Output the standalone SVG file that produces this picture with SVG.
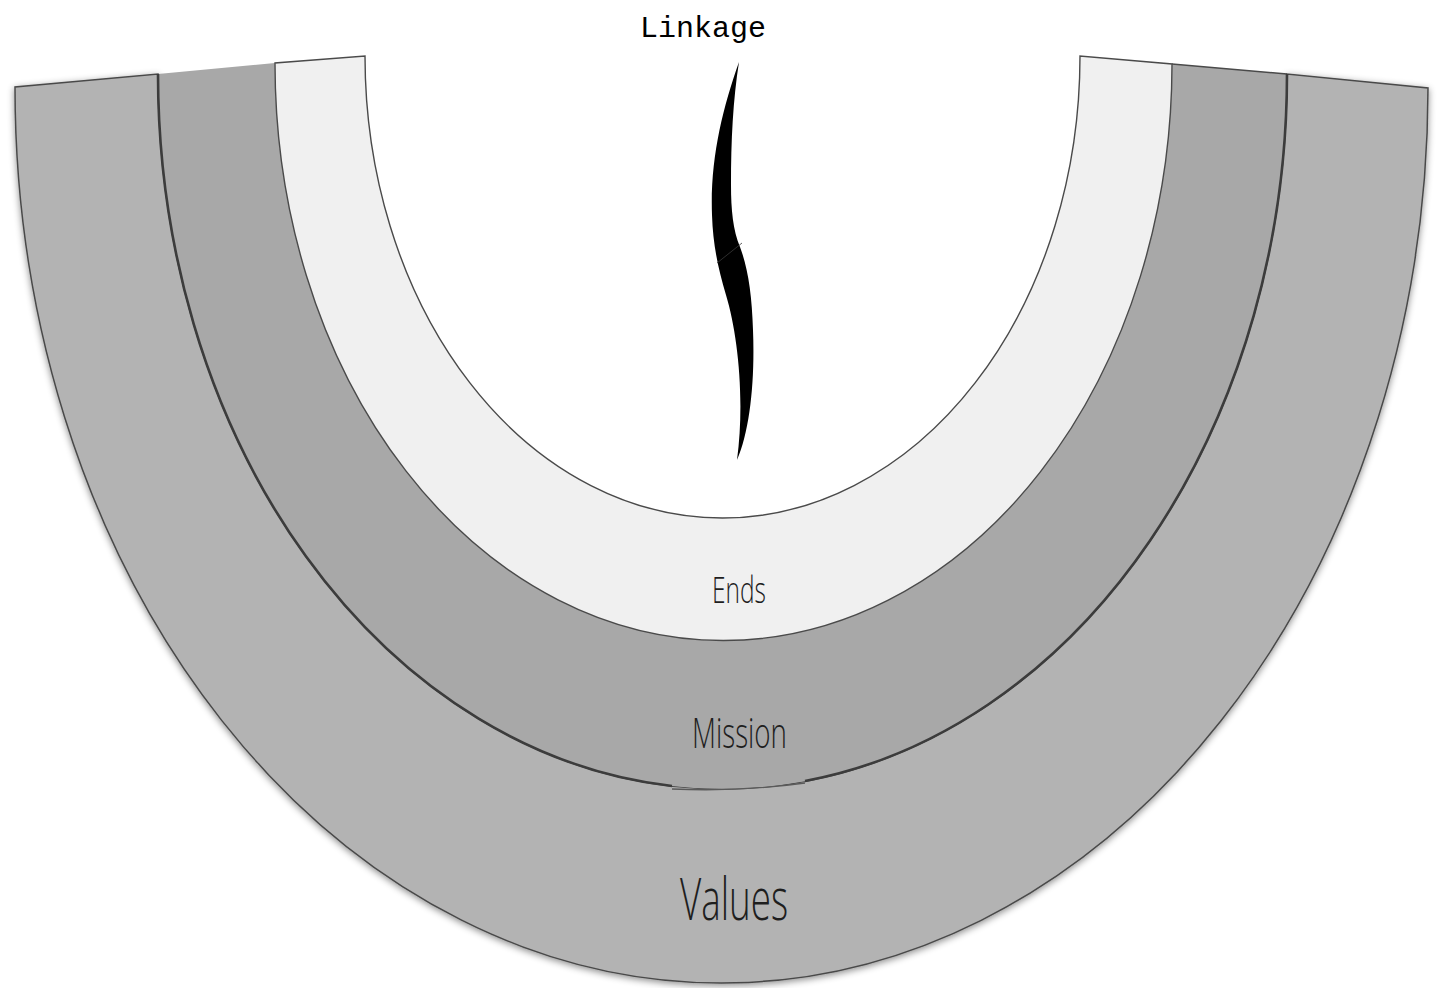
<svg xmlns="http://www.w3.org/2000/svg" width="1438" height="988" viewBox="0 0 1438 988">
  <defs>
    <filter id="shadow" x="-5%" y="-5%" width="110%" height="110%">
      <feDropShadow dx="0" dy="2" stdDeviation="3.5" flood-color="#000" flood-opacity="0.45"/>
    </filter>
    <style>
      .edge { fill: none; stroke: #4a4a4a; stroke-width: 1.5; }
      .thick { fill: none; stroke: #3c3c3c; stroke-width: 2.6; }
      .lbl { font-family: "Open Sans", "Lato", sans-serif; font-weight: 300; fill: #1e1e1e; text-anchor: middle; }
      .mono { font-family: "Liberation Mono", "Courier New", monospace; fill: #000; text-anchor: middle; }
    </style>
  </defs>
  <rect width="1438" height="988" fill="#ffffff"/>

  <g id="band-values">
    <path d="M 15 87 A 706.5 895.5 0 0 0 1428 88 L 1287 74 A 564.5 715 0 0 1 158 74 Z" fill="#b3b3b3" stroke="#4a4a4a" stroke-width="1.5" filter="url(#shadow)"/>
    <text class="lbl" x="734" y="920" font-size="58" textLength="108" lengthAdjust="spacingAndGlyphs">Values</text>
  </g>

  <g id="band-mission">
    <path d="M 158 74 A 564.5 715 0 0 0 1287 74 L 1172 64 A 448.5 577 0 0 1 275 63 Z" fill="#a8a8a8" stroke="none"/>
    <path class="edge" d="M 1287 74 L 1172 64"/>
    <path class="thick" d="M 158 74 A 564.5 715 0 0 0 672 786"/>
    <path class="thick" d="M 805 781 A 564.5 715 0 0 0 1287 74"/>
    <path d="M 672 789 Q 740 792 805 783" fill="none" stroke="#5a5a5a" stroke-width="1.3"/>
    <text class="lbl" x="739.5" y="748" font-size="43" textLength="95" lengthAdjust="spacingAndGlyphs">Mission</text>
  </g>

  <g id="band-ends">
    <path d="M 275 63 A 448.5 577 0 0 0 1172 64 L 1080 56 A 357.5 462 0 0 1 365 56 Z" fill="#f0f0f0" stroke="#4a4a4a" stroke-width="1.4"/>
    <text class="lbl" x="739" y="603" font-size="37" textLength="54" lengthAdjust="spacingAndGlyphs">Ends</text>
  </g>

  <g id="linkage">
    <path d="M 739 62 C 722 110 710 160 712 215 C 713 245 718 268 726 295 C 738 335 745 400 737 460 C 750 430 755 380 753 330 C 752 295 748 268 740 247 C 733 230 731 210 731 185 C 731 140 733 100 739 62 Z" fill="#000"/>
    <path d="M 717 263 L 742 243" stroke="#3a3a3a" stroke-width="0.8" fill="none"/>
    <text class="mono" x="703" y="37" font-size="30">Linkage</text>
  </g>
</svg>
